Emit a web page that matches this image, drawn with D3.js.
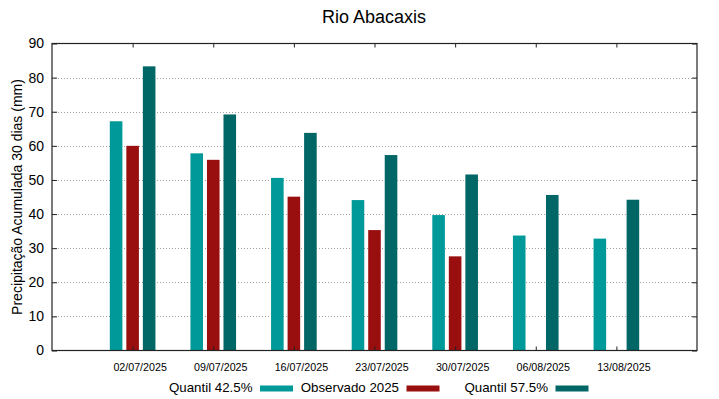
<!DOCTYPE html>
<html><head><meta charset="utf-8">
<script src="https://cdn.jsdelivr.net/npm/d3@7"></script>
<style>
body{margin:0;background:#fff;}
text{font-family:"Liberation Sans",Arial,sans-serif;}
</style></head>
<body><svg id="c" width="719" height="399"></svg>
<script>
const dates = ["02/07/2025","09/07/2025","16/07/2025","23/07/2025","30/07/2025","06/08/2025","13/08/2025"];
const q425 = [67.2,57.8,50.6,44.1,39.7,33.7,32.8];
const obs2025 = [60.0,55.9,45.1,35.3,27.6,null,null];
const q575 = [83.3,69.2,63.8,57.3,51.6,45.6,44.2];
const yTicks = [0,10,20,30,40,50,60,70,80,90];
const seriesNames = ["Quantil 42.5%","Observado 2025","Quantil 57.5%"];
const colors = ["#009999","#990f0f","#006666"];

const svg = d3.select("#c");
const L=52, R=697, T=43.5, B=350.5;
const x = d3.scaleLinear().domain([0,dates.length+1]).range([L,R]);
const y = d3.scaleLinear().domain([0,90]).range([B,T]);

// grid
svg.append("g").selectAll("line").data(yTicks.filter(d=>d>0&&d<90)).join("line")
  .attr("x1",L).attr("x2",R).attr("y1",d=>Math.round(y(d))+0.5).attr("y2",d=>Math.round(y(d))+0.5)
  .attr("stroke","#a0a0a0").attr("stroke-width",1).attr("stroke-dasharray","1,2");

// bars
const bw = 0.156, off = 0.205;
const series = [q425, obs2025, q575];
series.forEach((vals,si)=>{
  svg.append("g").selectAll("rect").data(vals.map((v,i)=>({v,i})).filter(d=>d.v!=null)).join("rect")
    .attr("x",d=>x(d.i+1+(si-1)*off-bw/2))
    .attr("width",d=>x(bw)-x(0))
    .attr("y",d=>y(d.v))
    .attr("height",d=>y(0)-y(d.v))
    .attr("fill",colors[si]);
});

// axes
const yl = svg.append("g").attr("transform",`translate(${L},0)`)
  .call(d3.axisLeft(y).tickValues(yTicks).tickSize(-5).tickPadding(8));
const yr = svg.append("g").attr("transform",`translate(${R},0)`)
  .call(d3.axisRight(y).tickValues(yTicks).tickSize(-5).tickFormat(""));
const xb = svg.append("g").attr("transform",`translate(0,${B})`)
  .call(d3.axisBottom(x).tickValues(dates.map((d,i)=>i+1)).tickSize(-4).tickPadding(13).tickFormat((d)=>dates[d-1]));
const xt = svg.append("g").attr("transform",`translate(0,${T})`)
  .call(d3.axisTop(x).tickValues(dates.map((d,i)=>i+1)).tickSize(-4).tickFormat(""));
[yl,yr,xb,xt].forEach(g=>{g.select(".domain").remove(); g.selectAll("line").attr("stroke","#222");});
yl.selectAll("text").attr("font-size","14px").attr("fill","#000");
xb.selectAll("text").attr("font-size","10.7px").attr("fill","#000").attr("dx","7");
// frame
svg.append("rect").attr("x",L).attr("y",T).attr("width",R-L).attr("height",B-T)
  .attr("fill","none").attr("stroke","#222").attr("stroke-width",1.2);

// title
svg.append("text").attr("x",374).attr("y",23).attr("text-anchor","middle").attr("font-size","18px").text("Rio Abacaxis");
// y label
svg.append("text").attr("transform",`translate(22,${(T+B)/2}) rotate(-90)`).attr("text-anchor","middle")
  .attr("font-size","14px").text("Precipitação Acumulada 30 dias (mm)");

// legend
const legX = [252.5, 399, 548];
seriesNames.forEach((n,i)=>{
  svg.append("text").attr("x",legX[i]).attr("y",392).attr("text-anchor","end").attr("font-size","13.3px").text(n);
  svg.append("rect").attr("x",legX[i]+7.5).attr("y",385.5).attr("width",33).attr("height",6).attr("fill",colors[i]);
});
</script></body></html>
